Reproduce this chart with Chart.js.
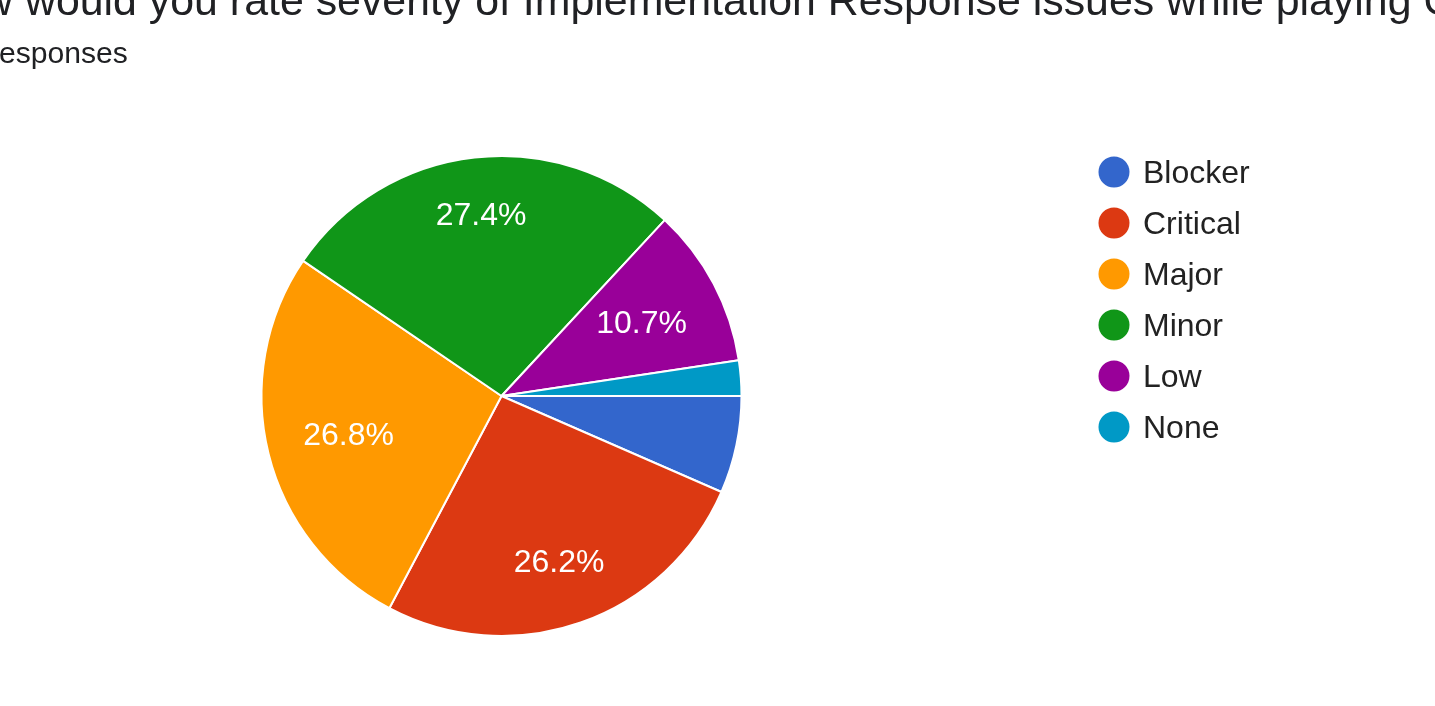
<!DOCTYPE html>
<html>
<head>
<meta charset="utf-8">
<script src="https://cdn.jsdelivr.net/npm/chart.js@4.4.0/dist/chart.umd.min.js"></script>
<style>
  html, body { margin: 0; padding: 0; background: #fff; overflow: hidden; }
  canvas { display: block; }
</style>
</head>
<body>
<canvas id="pie" width="1435" height="706"></canvas>
<script>
const labels = ["Blocker", "Critical", "Major", "Minor", "Low", "None"];
const counts = [11, 44, 45, 46, 18, 4];
const colors = ["#3366cc", "#dc3912", "#ff9900", "#109618", "#990099", "#0099c6"];
const titleText = "How would you rate severity of Implementation Response issues while playing Game?";
const subtitleText = "168 responses";

const total = counts.reduce((a, b) => a + b, 0);
const FONT = "'Liberation Sans', Arial, sans-serif";

// title + "N responses", cropped at the left/top like the screenshot
const headerPlugin = {
  id: "header",
  afterDraw(chart) {
    const ctx = chart.ctx;
    ctx.save();
    ctx.fillStyle = "#202124";
    ctx.textBaseline = "alphabetic";
    ctx.textAlign = "left";

    ctx.font = "100px " + FONT;
    const pre = ctx.measureText("How ").width;
    const mid = ctx.measureText("would you rate severity of Implementation Response issues while playing").width;
    const size = (1412 - 25) / mid * 100;
    ctx.font = size + "px " + FONT;
    ctx.fillText(titleText, 25 - pre * size / 100, 15);

    ctx.font = "100px " + FONT;
    const lead = ctx.measureText("168 r").width;
    const word = ctx.measureText("esponses").width;
    const s2 = 129 / word * 100;
    ctx.font = s2 + "px " + FONT;
    ctx.fillText(subtitleText, -1 - lead * s2 / 100, 63);
    ctx.restore();
  }
};

// percentage text inside slices, pushed out until the far corner reaches ~0.85R
const sliceLabels = {
  id: "sliceLabels",
  afterDatasetsDraw(chart) {
    const ctx = chart.ctx;
    const meta = chart.getDatasetMeta(0);
    ctx.save();
    ctx.font = "32px " + FONT;
    ctx.fillStyle = "#fff";
    ctx.textAlign = "center";
    ctx.textBaseline = "middle";
    meta.data.forEach((arc, i) => {
      const pct = counts[i] / total * 100;
      if (pct < 8) return;
      const p = arc.getProps(["x", "y", "startAngle", "endAngle", "outerRadius"], true);
      const a = (p.startAngle + p.endAngle) / 2;
      const c = Math.cos(a), s = Math.sin(a);
      const txt = pct.toFixed(1) + "%";
      const w = ctx.measureText(txt).width, h = 23;
      const K = p.outerRadius * 0.85;
      let d = 0;
      while (d < K) {
        const cx = d * c + Math.sign(c) * w / 2;
        const cy = d * s + Math.sign(s) * h / 2;
        if (Math.hypot(cx, cy) >= K) break;
        d += 0.5;
      }
      ctx.fillText(txt, p.x + d * c, p.y + d * s + 2);
    });
    ctx.restore();
  }
};

// legend on the right with round markers
const sideLegend = {
  id: "sideLegend",
  afterDraw(chart) {
    const ctx = chart.ctx;
    ctx.save();
    ctx.font = "32px " + FONT;
    ctx.textBaseline = "middle";
    ctx.textAlign = "left";
    labels.forEach((lab, i) => {
      const y = 172 + i * 51;
      ctx.fillStyle = colors[i];
      ctx.beginPath();
      ctx.arc(1114, y, 15.5, 0, Math.PI * 2);
      ctx.fill();
      ctx.fillStyle = "#222";
      ctx.fillText(lab, 1143, y + 2);
    });
    ctx.restore();
  }
};

new Chart(document.getElementById("pie"), {
  type: "pie",
  data: {
    labels: labels,
    datasets: [{
      data: counts,
      backgroundColor: colors,
      borderColor: "#fff",
      borderWidth: 2
    }]
  },
  options: {
    responsive: false,
    animation: false,
    devicePixelRatio: 1,
    rotation: 90,
    layout: { padding: { left: 260, top: 155, right: 692, bottom: 69 } },
    plugins: {
      legend: { display: false },
      tooltip: { enabled: false }
    }
  },
  plugins: [headerPlugin, sliceLabels, sideLegend]
});
</script>
</body>
</html>
